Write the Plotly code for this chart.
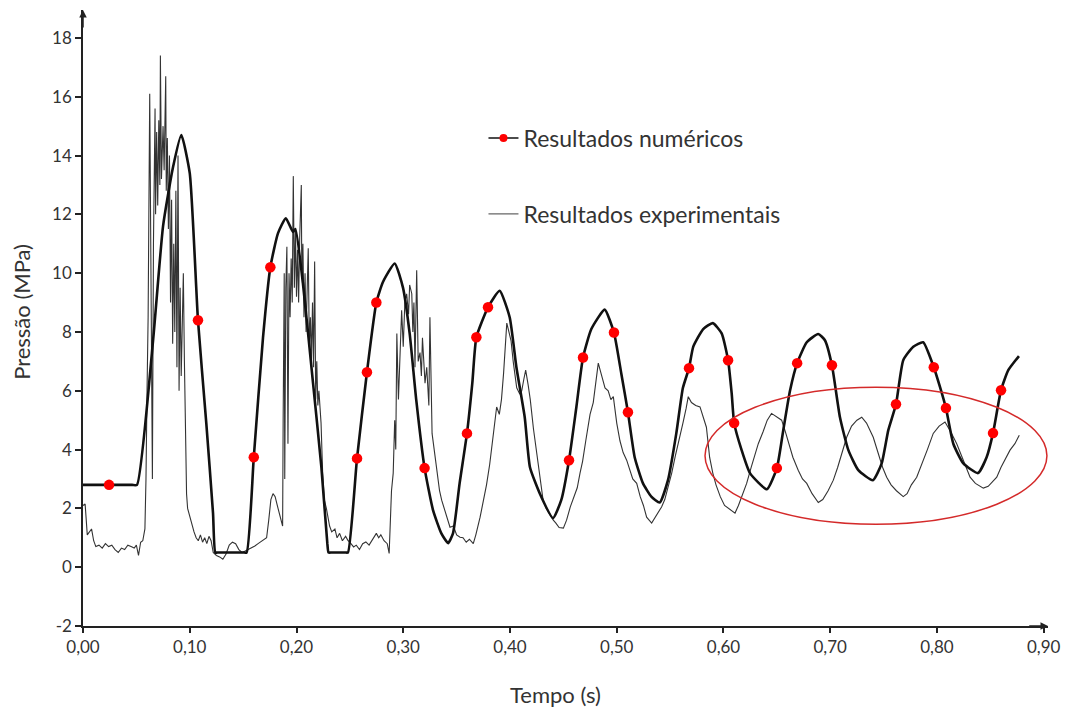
import plotly.graph_objects as go

# ---------------- data ----------------
num_t = [0.000, 0.030, 0.046, 0.0506, 0.0656, 0.075, 0.0843, 0.0921, 0.1000, 0.1077, 0.1155, 0.1218, 0.1240,
         0.1270, 0.1500, 0.1533,
         0.1600, 0.1686, 0.1755, 0.1827, 0.1900, 0.1967, 0.1990, 0.2060, 0.2155, 0.2233, 0.2289, 0.2300,
         0.2330, 0.2455, 0.2482, 0.2567, 0.2660, 0.2748, 0.2810, 0.2920, 0.2998, 0.3060, 0.3122, 0.3200, 0.3279, 0.3357,
         0.3420, 0.3466, 0.3528, 0.3597, 0.3647, 0.3685, 0.3794, 0.3903, 0.3997, 0.4060, 0.4138, 0.4187,
         0.4280, 0.4403, 0.4480, 0.4553, 0.4622, 0.4684, 0.4762, 0.4887, 0.4974, 0.5043, 0.5105, 0.5168,
         0.5246, 0.5324, 0.5402, 0.5480, 0.5558, 0.5620, 0.5677, 0.5717, 0.5810, 0.5900, 0.5983, 0.6043,
         0.6077, 0.6100, 0.6170, 0.6248, 0.6407, 0.6500, 0.6560, 0.6623, 0.6690, 0.6780, 0.6887, 0.6950,
         0.7016, 0.7091, 0.7170, 0.7263, 0.7400, 0.7482, 0.7544, 0.7616, 0.7684, 0.7778, 0.7870, 0.7970,
         0.8028, 0.8084, 0.8153, 0.8247, 0.8384, 0.8465, 0.8525, 0.8600, 0.8668, 0.8768]
num_p = [2.8, 2.8, 2.8, 2.8, 7.7, 11.6, 13.6, 14.7, 13.4, 8.4, 4.9, 1.84, 0.5,
         0.5, 0.5, 0.5,
         3.74, 7.8, 10.2, 11.36, 11.87, 11.4, 11.5, 9.66, 6.26, 3.4, 0.8, 0.5,
         0.5, 0.5, 0.5, 3.7, 6.63, 9.0, 9.7, 10.33, 9.5, 7.95, 5.68, 3.37, 1.94, 1.15,
         0.82, 1.15, 2.85, 4.55, 6.26, 7.82, 8.84, 9.4, 8.5, 6.8, 5.1, 3.4,
         2.5, 1.67, 2.28, 3.64, 5.45, 7.13, 8.1, 8.76, 7.98, 6.58, 5.27, 3.74,
         2.85, 2.4, 2.2, 2.96, 4.55, 6.1, 6.77, 7.5, 8.1, 8.3, 7.95, 7.04,
         5.9, 4.9, 3.98, 3.2, 2.65, 3.37, 4.66, 6.0, 6.94, 7.65, 7.93, 7.72,
         6.87, 5.1, 3.98, 3.3, 2.96, 3.53, 4.66, 5.54, 7.04, 7.5, 7.65, 6.8,
         6.13, 5.41, 4.2, 3.53, 3.2, 3.74, 4.56, 6.02, 6.7, 7.18]

dot_t = [0.0244, 0.1077, 0.1600, 0.1755, 0.2567, 0.2660, 0.2748, 0.3200, 0.3597, 0.3685, 0.3794, 0.4553,
         0.4684, 0.4974, 0.5105, 0.5677, 0.6043, 0.6100, 0.6500, 0.6690, 0.7016, 0.7616, 0.7970, 0.8084,
         0.8525, 0.8600]
dot_p = [2.8, 8.4, 3.74, 10.2, 3.7, 6.63, 9.0, 3.37, 4.55, 7.82, 8.84, 3.64,
         7.13, 7.98, 5.27, 6.77, 7.04, 4.9, 3.37, 6.94, 6.87, 5.54, 6.8, 5.41,
         4.56, 6.02]

exp_t = [0.000, 0.002, 0.004, 0.006, 0.008, 0.010, 0.012, 0.015, 0.018, 0.021, 0.024, 0.027, 0.030,
         0.033, 0.036, 0.039, 0.042, 0.045, 0.048, 0.050, 0.052, 0.054, 0.056, 0.058, 0.059, 0.060,
         0.061, 0.0625, 0.0635, 0.064, 0.065, 0.066, 0.0675, 0.068, 0.069, 0.070, 0.071, 0.072, 0.0725,
         0.0735, 0.075, 0.076, 0.0775, 0.078, 0.079, 0.080, 0.081, 0.082, 0.083, 0.084, 0.085, 0.086,
         0.087, 0.088, 0.089, 0.090, 0.091, 0.092, 0.093, 0.094, 0.095, 0.096, 0.097, 0.098, 0.100,
         0.102, 0.104, 0.106, 0.108, 0.110, 0.112, 0.114, 0.116, 0.118, 0.120, 0.122, 0.125, 0.128,
         0.131, 0.134, 0.137, 0.140, 0.143, 0.146, 0.149, 0.152, 0.155, 0.158, 0.161, 0.164, 0.167,
         0.170, 0.172, 0.174, 0.176, 0.178, 0.180, 0.182, 0.184, 0.186, 0.187, 0.1875, 0.188, 0.1885,
         0.189, 0.190, 0.191, 0.192, 0.193, 0.194, 0.195, 0.196, 0.197, 0.198, 0.199, 0.200, 0.201,
         0.202, 0.203, 0.2045, 0.205, 0.206, 0.207, 0.208, 0.209, 0.210, 0.211, 0.212, 0.213, 0.214,
         0.215, 0.216, 0.217, 0.218, 0.219, 0.220, 0.221, 0.223, 0.2245, 0.226, 0.228, 0.231, 0.233,
         0.236, 0.238, 0.2404, 0.243, 0.246, 0.248, 0.251, 0.2535, 0.256, 0.259, 0.262, 0.265, 0.268,
         0.271, 0.2748, 0.277, 0.279, 0.282, 0.285, 0.2868, 0.288, 0.289, 0.2906, 0.292, 0.293, 0.294,
         0.2955, 0.297, 0.2985, 0.300, 0.3015, 0.3032, 0.305, 0.306, 0.308, 0.309, 0.310, 0.311, 0.312,
         0.3126, 0.314, 0.3157, 0.317, 0.318, 0.3204, 0.322, 0.324, 0.325, 0.327, 0.329, 0.3313, 0.334,
         0.336, 0.339, 0.3438, 0.347, 0.350, 0.3532, 0.356, 0.359, 0.362, 0.3656, 0.368, 0.372, 0.375,
         0.378, 0.381, 0.3844, 0.3875, 0.390, 0.392, 0.394, 0.396, 0.397, 0.399, 0.401, 0.403, 0.4063,
         0.409, 0.411, 0.413, 0.4147, 0.417, 0.419, 0.422, 0.425, 0.428, 0.431, 0.434, 0.437, 0.4406,
         0.443, 0.446, 0.450, 0.453, 0.4565, 0.460, 0.463, 0.4656, 0.468, 0.471, 0.475, 0.478, 0.4827,
         0.486, 0.489, 0.492, 0.4945, 0.4968, 0.500, 0.503, 0.506, 0.5093, 0.512, 0.515, 0.5187, 0.522,
         0.525, 0.528, 0.5327, 0.536, 0.539, 0.542, 0.545, 0.548, 0.5515, 0.555, 0.5593, 0.562, 0.565,
         0.567, 0.570, 0.574, 0.578, 0.581, 0.584, 0.587, 0.590, 0.593, 0.597, 0.601, 0.605, 0.6108,
         0.614, 0.618, 0.6217, 0.626, 0.6326, 0.637, 0.641, 0.645, 0.650, 0.6545, 0.658, 0.661, 0.665,
         0.670, 0.674, 0.678, 0.683, 0.6888, 0.693, 0.698, 0.7029, 0.707, 0.711, 0.7154, 0.720, 0.725,
         0.7295, 0.734, 0.7403, 0.745, 0.749, 0.7529, 0.757, 0.762, 0.7684, 0.772, 0.776, 0.781, 0.786,
         0.791, 0.7965, 0.802, 0.8075, 0.813, 0.8185, 0.823, 0.827, 0.831, 0.836, 0.8434, 0.848, 0.852,
         0.856, 0.860, 0.864, 0.8684, 0.873, 0.8771]
exp_p = [2.1, 2.15, 1.1, 1.2, 1.3, 0.9, 0.7, 0.75, 0.65, 0.8, 0.7, 0.75, 0.6,
         0.5, 0.65, 0.6, 0.75, 0.7, 0.65, 0.75, 0.4, 0.85, 0.9, 1.3, 3.0, 6.0,
         8.5, 16.1, 9.0, 7.5, 3.0, 11.0, 15.6, 12.0, 14.8, 12.3, 15.2, 13.0, 17.4,
         13.2, 15.0, 13.5, 16.7, 12.8, 14.6, 11.5, 14.0, 9.0, 12.5, 7.6, 11.0, 8.0,
         12.8, 6.8, 14.0, 6.0, 9.5, 6.5, 8.0, 10.0, 7.0, 4.0, 2.5, 2.0, 1.7,
         1.5, 1.2, 1.0, 0.9, 1.1, 0.85, 1.0, 0.8, 1.05, 0.9, 0.5, 0.4, 0.35,
         0.27, 0.45, 0.75, 0.85, 0.8, 0.6, 0.5, 0.55, 0.6, 0.65, 0.72, 0.8, 0.88,
         0.95, 1.0, 1.6, 2.3, 2.5, 2.4, 2.1, 1.8, 1.5, 1.4, 5.0, 8.0, 10.0,
         3.0, 9.5, 10.9, 4.2, 10.0, 8.5, 10.5, 9.0, 13.3, 9.5, 11.5, 9.2, 10.8,
         9.0, 11.2, 13.0, 9.8, 11.0, 8.5, 10.0, 8.0, 9.5, 10.85, 7.5, 8.5, 7.0,
         9.0, 6.8, 10.4, 5.7, 7.0, 5.5, 6.0, 4.9, 3.2, 2.3, 2.0, 1.4, 1.2,
         1.3, 1.0, 1.15, 0.9, 1.05, 0.92, 0.8, 0.69, 0.75, 0.6, 0.8, 0.86, 0.75,
         0.95, 1.15, 1.0, 1.1, 0.9, 0.8, 0.47, 1.5, 2.6, 3.2, 5.0, 4.0, 7.95,
         5.7, 7.0, 8.74, 7.5, 9.0, 9.3, 8.6, 9.6, 9.3, 8.0, 9.0, 6.8, 8.5,
         10.1, 7.0, 7.3, 6.5, 7.8, 6.26, 6.8, 5.5, 8.5, 4.55, 4.0, 3.2, 2.6,
         2.28, 1.9, 1.36, 1.4, 1.1, 1.02, 1.0, 0.85, 0.95, 0.8, 1.1, 1.7, 2.2,
         2.8, 3.5, 4.55, 5.45, 5.2, 5.7, 6.6, 7.6, 8.3, 8.0, 7.7, 7.0, 6.1,
         5.9, 6.0, 6.4, 6.7, 6.2, 5.7, 4.7, 3.9, 3.0, 2.28, 2.0, 1.8, 1.6,
         1.5, 1.35, 1.33, 1.6, 2.05, 2.4, 2.7, 3.2, 3.6, 4.3, 5.2, 5.6, 6.94,
         6.5, 6.1, 6.0, 5.7, 5.8, 4.9, 4.3, 3.9, 3.64, 3.3, 3.0, 2.85, 2.4,
         2.1, 1.7, 1.5, 1.7, 1.9, 2.05, 2.3, 2.7, 3.2, 3.8, 4.55, 4.9, 5.4,
         5.8, 5.6, 5.5, 5.45, 5.1, 4.76, 3.74, 3.2, 2.8, 2.4, 2.1, 2.0, 1.84,
         2.1, 2.5, 2.85, 3.4, 4.2, 4.6, 5.0, 5.23, 5.1, 5.0, 4.6, 4.2, 3.74,
         3.3, 3.0, 2.85, 2.5, 2.2, 2.3, 2.6, 2.96, 3.4, 3.9, 4.42, 4.8, 5.0,
         5.1, 4.9, 4.42, 3.9, 3.4, 3.06, 2.8, 2.6, 2.4, 2.5, 2.8, 3.06, 3.5,
         4.0, 4.55, 4.8, 4.94, 4.6, 4.2, 3.8, 3.4, 3.06, 2.85, 2.69, 2.75, 2.9,
         3.06, 3.4, 3.7, 3.98, 4.2, 4.49]

x_ticks = [0.0, 0.1, 0.2, 0.3, 0.4, 0.5, 0.6, 0.7, 0.8, 0.9]
x_tick_labels = ["0,00", "0,10", "0,20", "0,30", "0,40", "0,50", "0,60", "0,70", "0,80", "0,90"]
y_ticks = [-2, 0, 2, 4, 6, 8, 10, 12, 14, 16, 18]
y_tick_labels = ["-2", "0", "2", "4", "6", "8", "10", "12", "14", "16", "18"]

FONT = "Lato"
TXT = "#333333"

fig = go.Figure()

fig.add_trace(go.Scatter(x=exp_t, y=exp_p, mode="lines",
                         line=dict(color="#333333", width=1.1), showlegend=False, hoverinfo="skip"))
fig.add_trace(go.Scatter(x=num_t, y=num_p, mode="lines",
                         line=dict(color="#111111", width=2.6, shape="spline", smoothing=0.5),
                         showlegend=False, hoverinfo="skip"))
fig.add_trace(go.Scatter(x=dot_t, y=dot_p, mode="markers",
                         marker=dict(color="#ff0000", size=10.5), showlegend=False, hoverinfo="skip"))

# legend entries
fig.add_trace(go.Scatter(x=[None], y=[None], mode="lines+markers", name="Resultados numéricos",
                         line=dict(color="#111111", width=1.5), marker=dict(color="#ff0000", size=8),
                         legend="legend"))
fig.add_trace(go.Scatter(x=[None], y=[None], mode="lines", name="Resultados experimentais",
                         line=dict(color="#666666", width=1.2), legend="legend2"))

axis_common = dict(showgrid=False, zeroline=False, showline=True, linecolor="#222222", linewidth=1.5,
                   ticks="outside", tickcolor="#222222", tickwidth=1.5,
                   tickfont=dict(family=FONT, size=17, color=TXT))

fig.update_layout(
    width=1063, height=703,
    margin=dict(l=75, r=23, t=2, b=85),
    paper_bgcolor="white", plot_bgcolor="white",
    font=dict(family=FONT, color=TXT),
    xaxis=dict(range=[0, 0.904], tickvals=x_ticks, ticktext=x_tick_labels, ticklen=5, **axis_common),
    yaxis=dict(range=[-2, 18.95], tickvals=y_ticks, ticktext=y_tick_labels, ticklen=6, **axis_common),
    legend=dict(x=0.415, y=0.792, xanchor="left", yanchor="middle", bgcolor="rgba(0,0,0,0)",
                font=dict(family=FONT, size=23, color=TXT), itemwidth=30),
    legend2=dict(x=0.415, y=0.669, xanchor="left", yanchor="middle", bgcolor="rgba(0,0,0,0)",
                 font=dict(family=FONT, size=23, color=TXT), itemwidth=30),
    shapes=[dict(type="circle", xref="x", yref="y", x0=0.5827, x1=0.903, y0=1.46, y1=6.12,
                 line=dict(color="#d42a2a", width=1.5))],
    annotations=[
        dict(x=0.904, y=-2, ax=0.885, ay=-2, xref="x", yref="y", axref="x", ayref="y", text="",
             showarrow=True, arrowhead=2, arrowsize=1, arrowwidth=1.5, arrowcolor="#222222"),
        dict(x=0, y=18.95, ax=0, ay=18.3, xref="x", yref="y", axref="x", ayref="y", text="",
             showarrow=True, arrowhead=2, arrowsize=1, arrowwidth=1.5, arrowcolor="#222222"),
        dict(x=0.490, y=-0.112, xref="paper", yref="paper", text="Tempo (s)", showarrow=False,
             xanchor="center", yanchor="middle", font=dict(family=FONT, size=22, color=TXT)),
        dict(x=-0.0632, y=0.51, xref="paper", yref="paper", text="Pressão (MPa)", showarrow=False,
             xanchor="center", yanchor="middle", textangle=-90,
             font=dict(family=FONT, size=22, color=TXT)),
    ],
)

fig.write_html("out.html")
